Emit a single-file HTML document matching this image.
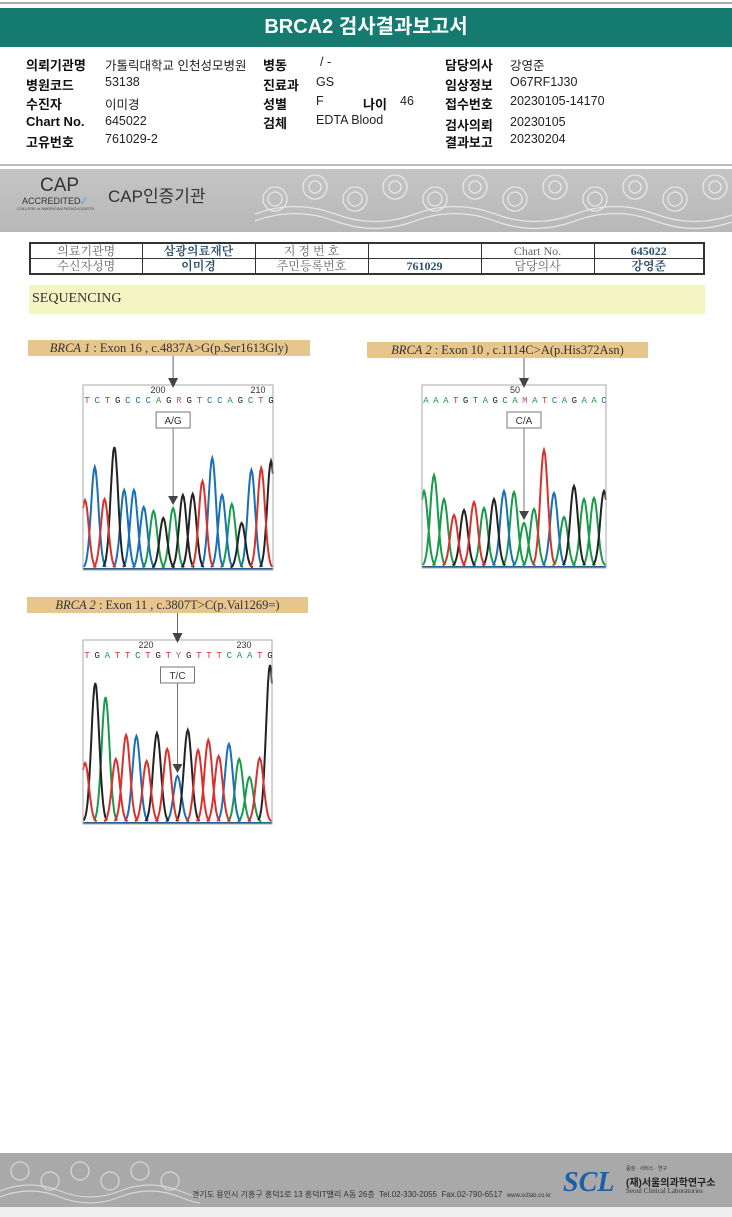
<!DOCTYPE html>
<html><head><meta charset="utf-8">
<style>
*{margin:0;padding:0;box-sizing:border-box}
body{width:732px;height:1217px;background:#fff;position:relative;overflow:hidden;font-family:"Liberation Sans","Noto Sans CJK KR",sans-serif;color:#111}
.a{position:absolute;white-space:nowrap}
.lb{font-weight:bold;font-size:13px}
.v{font-size:12.5px;color:#222}
.tag{position:absolute;background:#e6c68c;height:16px;font-family:"Liberation Serif","Noto Serif CJK SC",serif;font-size:12.5px;color:#333;text-align:center;line-height:16px}
.tag i{font-style:italic}
table{border-collapse:collapse;table-layout:fixed}
td{border:1px solid #333;font-family:"Liberation Serif","Noto Serif CJK SC",serif;font-size:12px;line-height:14px;text-align:center;color:#666;height:14px;padding:0;overflow:hidden}
td.b{color:#2b4f6e;font-weight:bold}
</style></head><body>
<div class="a" style="left:0;top:2px;width:732px;height:2px;background:#aaa"></div>
<div class="a" style="left:0;top:8px;width:732px;height:39px;background:#157b70;color:#fff;font-weight:bold;font-size:20px;text-align:center;line-height:39px">BRCA2 검사결과보고서</div>

<div>
<div class="a lb" style="left:26px;top:55px">의뢰기관명</div><div class="a v" style="left:105px;top:55px">가톨릭대학교 인천성모병원</div>
<div class="a lb" style="left:26px;top:75px">병원코드</div><div class="a v" style="left:105px;top:75px">53138</div>
<div class="a lb" style="left:26px;top:94px">수진자</div><div class="a v" style="left:105px;top:94px">이미경</div>
<div class="a lb" style="left:26px;top:114px">Chart No.</div><div class="a v" style="left:105px;top:114px">645022</div>
<div class="a lb" style="left:26px;top:132px">고유번호</div><div class="a v" style="left:105px;top:132px">761029-2</div>
<div class="a lb" style="left:263px;top:55px">병동</div><div class="a v" style="left:320px;top:55px">/ -</div>
<div class="a lb" style="left:263px;top:75px">진료과</div><div class="a v" style="left:316px;top:75px">GS</div>
<div class="a lb" style="left:263px;top:94px">성별</div><div class="a v" style="left:316px;top:94px">F</div>
<div class="a lb" style="left:363px;top:94px">나이</div><div class="a v" style="left:400px;top:94px">46</div>
<div class="a lb" style="left:263px;top:113px">검체</div><div class="a v" style="left:316px;top:113px">EDTA Blood</div>
<div class="a lb" style="left:445px;top:55px">담당의사</div><div class="a v" style="left:510px;top:55px">강영준</div>
<div class="a lb" style="left:445px;top:75px">임상정보</div><div class="a v" style="left:510px;top:75px">O67RF1J30</div>
<div class="a lb" style="left:445px;top:94px">접수번호</div><div class="a v" style="left:510px;top:94px">20230105-14170</div>
<div class="a lb" style="left:445px;top:115px">검사의뢰</div><div class="a v" style="left:510px;top:115px">20230105</div>
<div class="a lb" style="left:445px;top:132px">결과보고</div><div class="a v" style="left:510px;top:132px">20230204</div>
</div>
<div class="a" style="left:0;top:164px;width:732px;height:2px;background:#bbb"></div>

<div class="a" style="left:0;top:169px;width:732px;height:63px;background:linear-gradient(#c4c4c4,#b8b8b8)">
 <svg class="a" style="left:255px;top:0" width="477" height="63">
  <g fill="none" stroke="#e6e6e6" stroke-width="1.3">
   <circle cx="20" cy="30" r="12"/><circle cx="20" cy="30" r="7"/><circle cx="60" cy="18" r="12"/><circle cx="60" cy="18" r="6"/>
   <circle cx="100" cy="30" r="12"/><circle cx="100" cy="30" r="7"/><circle cx="140" cy="18" r="12"/><circle cx="140" cy="18" r="6"/>
   <circle cx="180" cy="30" r="12"/><circle cx="180" cy="30" r="7"/><circle cx="220" cy="18" r="12"/><circle cx="220" cy="18" r="6"/>
   <circle cx="260" cy="30" r="12"/><circle cx="260" cy="30" r="7"/><circle cx="300" cy="18" r="12"/><circle cx="300" cy="18" r="6"/>
   <circle cx="340" cy="30" r="12"/><circle cx="340" cy="30" r="7"/><circle cx="380" cy="18" r="12"/><circle cx="380" cy="18" r="6"/>
   <circle cx="420" cy="30" r="12"/><circle cx="420" cy="30" r="7"/><circle cx="460" cy="18" r="12"/><circle cx="460" cy="18" r="6"/>
   <path d="M0 45 Q40 30 80 45 T160 45 T240 45 T320 45 T400 45 T480 45"/>
   <path d="M0 52 Q40 37 80 52 T160 52 T240 52 T320 52 T400 52 T480 52"/>
  </g>
 </svg>
 <div class="a" style="left:40px;top:6px;font-size:19px;color:#333">CAP</div>
 <div class="a" style="left:22px;top:25px;font-size:9px;color:#333">ACCREDITED<span style="color:#3a9ad0">✓</span></div>
 <div class="a" style="left:17px;top:37px;font-size:4px;color:#444">COLLEGE of AMERICAN PATHOLOGISTS</div>
 <div class="a" style="left:108px;top:13px;font-size:17px;color:#333">CAP인증기관</div>
</div>

<table class="a" style="left:29px;top:242px;width:676px;border:2px solid #333">
<tr><td style="width:112px">의료기관명</td><td class="b" style="width:113px">삼광의료재단</td><td style="width:113px">지 정 번 호</td><td style="width:113px"></td><td style="width:113px">Chart No.</td><td class="b">645022</td></tr>
<tr><td>수신자성명</td><td class="b">이미경</td><td>주민등록번호</td><td class="b">761029</td><td>담당의사</td><td class="b">강영준</td></tr>
</table>

<div class="a" style="left:29px;top:285px;width:676px;height:29px;background:#f3f6c2;font-family:'Liberation Serif',serif;font-size:14px;line-height:27px;padding-left:3px;color:#333">SEQUENCING</div>

<div class="tag" style="left:28px;top:340px;width:282px"><i>BRCA 1</i> : Exon 16 , c.4837A&gt;G(p.Ser1613Gly)</div>
<div class="tag" style="left:367px;top:342px;width:281px"><i>BRCA 2</i> : Exon 10 , c.1114C&gt;A(p.His372Asn)</div>
<div class="tag" style="left:27px;top:597px;width:281px"><i>BRCA 2</i> : Exon 11 , c.3807T&gt;C(p.Val1269=)</div>

<svg class="a" id="chroms" style="left:0;top:0" width="732" height="900"></svg>

<div class="a" style="left:0;top:1153px;width:732px;height:54px;background:#a9a9a9">
 <svg class="a" style="left:0;top:0" width="200" height="54"><g fill="none" stroke="#d8d8d8" stroke-width="1.2">
  <circle cx="20" cy="18" r="9"/><circle cx="50" cy="28" r="9"/><circle cx="80" cy="18" r="9"/><circle cx="110" cy="28" r="9"/><circle cx="140" cy="18" r="9"/><circle cx="170" cy="28" r="9"/>
  <path d="M0 38 Q30 26 60 38 T120 38 T180 38 T200 38"/><path d="M0 44 Q30 32 60 44 T120 44 T180 44 T200 44"/></g></svg>
 <div class="a" style="left:192px;top:36px;font-size:8px;color:#333">경기도 용인시 기흥구 흥덕1로 13 흥덕IT밸리 A동 26층 &nbsp;Tel.02-330-2055 &nbsp;Fax.02-790-6517 &nbsp;<span style="font-size:6px">www.scllab.co.kr</span></div>
 <div class="a" style="left:563px;top:14px;font-family:'Liberation Serif',serif;font-style:italic;font-weight:bold;font-size:28px;color:#1b5fa8">SCL</div>
 <div class="a" style="left:626px;top:12px;font-size:5px;color:#333">품질 · 서비스 · 연구</div>
 <div class="a" style="left:626px;top:21px;font-size:10px;font-weight:bold;color:#222">(재)서울의과학연구소</div>
 <div class="a" style="left:626px;top:34px;font-family:'Liberation Serif',serif;font-size:7px;color:#333">Seoul Clinical Laboratories</div>
</div>
<div class="a" style="left:0;top:1207px;width:732px;height:10px;background:#eee"></div>

<script>
// Chart 1 data
const c1Bases = "TCTGCCCAGRGTCCAGCTG";
const c1PeakBases = ["T","C","T","G","C","C","C","A","G","A","G","G","T","C","C","A","G","C","T","G"];
const c1PeakHeights = [68,101,69,121,78,78,61,57,50,60,73,74,87,110,73,64,45,98,100,107];
// Chart 2 data
const c2Bases = "AAATGTAGCAMATCAGAAC";
const c2PeakBases = ["A","A","A","T","G","T","A","G","C","A","A","A","T","C","A","G","A","A","G"];
const c2PeakHeights = [75,91,67,51,56,64,58,67,75,74,43,57,116,73,49,80,67,68,75];
// Chart 3 data
const c3Bases = "TGATTCTGTYGTTTCAATG";
const c3PeakBases = ["T","G","A","T","T","C","T","G","T","C","G","T","T","T","C","A","A","T","G"];
const c3PeakHeights = [59,139,125,63,87,86,61,89,73,46,92,72,82,66,78,63,45,64,157];

const colors = {A:"#1a9a4a",C:"#1a6fb5",G:"#222",T:"#d8322e"};
const NS="http://www.w3.org/2000/svg";
const svg=document.getElementById('chroms');
function mk(tag,attrs,parent){const e=document.createElementNS(NS,tag);for(const k in attrs)e.setAttribute(k,attrs[k]);(parent||svg).appendChild(e);return e;}

function chart(cfg){
  const {x0,y0,w,h,bases,peakBases,peakHeights,num1,num1x,num2,num2x,mark,markIdx,tagTop,name}=cfg;
  const g=mk('g',{});
  
  
  const base=y0+h-2;
  const n=peakHeights.length;
  const step=(w-4)/(n-1);
  const xs=i=>x0+2+i*step;
  const ys=v=>base-v;
  const sig=step*0.38;
  ['A','C','G','T'].forEach(b=>{
    let d='';
    peakBases.forEach((pb,i)=>{
      if(pb!==b)return;
      const cx=xs(i),hv=peakHeights[i];
      let s='';
      for(let t=-3;t<=3.01;t+=0.25){
        const px=cx+t*sig;if(px<x0||px>x0+w)continue;
        const py=ys(hv*Math.exp(-t*t/2));
        s+=(s?'L':'M')+px.toFixed(1)+' '+py.toFixed(1);
      }
      d+=s;
    });
    const p=mk('path',{d:d,fill:'none',stroke:colors[b],'stroke-width':2},g);
    
    
  });
  mk('line',{x1:x0,y1:base+1,x2:x0+w,y2:base+1,stroke:'#2a5d8a','stroke-width':2},g);
  mk('rect',{x:x0,y:y0,width:w,height:h,fill:'none',stroke:'#aaa','stroke-width':1},g);
  const bstep=(w-6)/(bases.length-1);
  for(let i=0;i<bases.length;i++){
    const ch=bases[i];
    const t=mk('text',{x:x0+4+i*bstep,y:y0+18,'font-size':9,'text-anchor':'middle','font-family':'Liberation Mono, monospace',fill:colors[ch]||'#c0508a'},g);
    t.textContent=ch;
  }
  let t=mk('text',{x:num1x,y:y0+8,'font-size':9,'text-anchor':'middle','font-family':'Liberation Sans, sans-serif',fill:'#333'},g);t.textContent=num1;
  if(num2){t=mk('text',{x:num2x,y:y0+8,'font-size':9,'text-anchor':'middle','font-family':'Liberation Sans, sans-serif',fill:'#333'},g);t.textContent=num2;}
  const ax=xs(markIdx);
  mk('line',{x1:ax,y1:tagTop,x2:ax,y2:y0-2,stroke:'#666','stroke-width':1},g);
  mk('path',{d:`M${ax-5} ${y0-7}L${ax+5} ${y0-7}L${ax} ${y0+3}Z`,fill:'#444'},g);
  mk('rect',{x:ax-17,y:y0+27,width:34,height:16,fill:'#fff',stroke:'#777'},g);
  t=mk('text',{x:ax,y:y0+39,'font-size':10,'text-anchor':'middle','font-family':'Liberation Sans, sans-serif',fill:'#333'},g);t.textContent=mark;
  const pt=ys(peakHeights[markIdx]);
  mk('line',{x1:ax,y1:y0+43,x2:ax,y2:pt-12,stroke:'#777','stroke-width':1},g);
  mk('path',{d:`M${ax-5} ${pt-12}L${ax+5} ${pt-12}L${ax} ${pt-3}Z`,fill:'#444'},g);
}
chart({name:'chromatogram-brca1-exon16',x0:83,y0:385,w:190,h:185,bases:c1Bases,peakBases:c1PeakBases,peakHeights:c1PeakHeights,num1:'200',num1x:158,num2:'210',num2x:258,mark:'A/G',markIdx:9,tagTop:356});
chart({name:'chromatogram-brca2-exon10',x0:422,y0:385,w:184,h:183,bases:c2Bases,peakBases:c2PeakBases,peakHeights:c2PeakHeights,num1:'50',num1x:515,mark:'C/A',markIdx:10,tagTop:358});
chart({name:'chromatogram-brca2-exon11',x0:83,y0:640,w:189,h:184,bases:c3Bases,peakBases:c3PeakBases,peakHeights:c3PeakHeights,num1:'220',num1x:146,num2:'230',num2x:244,mark:'T/C',markIdx:9,tagTop:613});
</script>
</body></html>
